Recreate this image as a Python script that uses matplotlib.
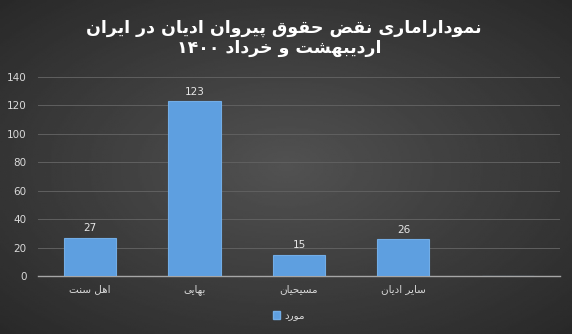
import numpy as np
import matplotlib

matplotlib.use("Agg")
import matplotlib.pyplot as plt
from matplotlib.patches import Patch

# data
categories = ["اهل سنت", "بهایی", "مسیحیان", "سایر ادیان", ""]
values = [27, 123, 15, 26, None]
series_name = "مورد"
title_lines = ["نمودارامارى نقض حقوق پيروان اديان در ايران", "ارديبهشت و خرداد ۱۴۰۰"]
yticks = [0, 20, 40, 60, 80, 100, 120, 140]

# minimal arabic shaping (matplotlib has no complex text layout)
# char -> (isolated, final, initial, medial); 2-tuple = joins on right only
FORMS = {
    "ا": (0xFE8D, 0xFE8E), "ب": (0xFE8F, 0xFE90, 0xFE91, 0xFE92),
    "ت": (0xFE95, 0xFE96, 0xFE97, 0xFE98), "ج": (0xFE9D, 0xFE9E, 0xFE9F, 0xFEA0),
    "ح": (0xFEA1, 0xFEA2, 0xFEA3, 0xFEA4), "خ": (0xFEA5, 0xFEA6, 0xFEA7, 0xFEA8),
    "د": (0xFEA9, 0xFEAA), "ر": (0xFEAD, 0xFEAE),
    "س": (0xFEB1, 0xFEB2, 0xFEB3, 0xFEB4), "ش": (0xFEB5, 0xFEB6, 0xFEB7, 0xFEB8),
    "ض": (0xFEBD, 0xFEBE, 0xFEBF, 0xFEC0), "ق": (0xFED5, 0xFED6, 0xFED7, 0xFED8),
    "ل": (0xFEDD, 0xFEDE, 0xFEDF, 0xFEE0), "م": (0xFEE1, 0xFEE2, 0xFEE3, 0xFEE4),
    "ن": (0xFEE5, 0xFEE6, 0xFEE7, 0xFEE8), "ه": (0xFEE9, 0xFEEA, 0xFEEB, 0xFEEC),
    "و": (0xFEED, 0xFEEE), "ى": (0xFEEF, 0xFEF0, 0xFBE8, 0xFBE9),
    "ي": (0xFEF1, 0xFEF2, 0xFEF3, 0xFEF4), "ی": (0xFBFC, 0xFBFD, 0xFBFE, 0xFBFF),
    "پ": (0xFB56, 0xFB57, 0xFB58, 0xFB59),
}


def shape(text):
    out = []
    for i, ch in enumerate(text):
        f = FORMS.get(ch)
        if f is None:
            out.append(ch)
            continue
        prev = text[i - 1] if i > 0 else ""
        nxt = text[i + 1] if i + 1 < len(text) else ""
        joins_prev = prev in FORMS and len(FORMS[prev]) == 4
        joins_next = len(f) == 4 and nxt in FORMS
        if joins_prev and joins_next:
            idx = 3
        elif joins_prev:
            idx = 1
        elif joins_next:
            idx = 2
        else:
            idx = 0
        out.append(chr(f[idx]))
    # visual order: reverse words, keep digit runs left-to-right
    words = "".join(out).split(" ")
    vis = []
    for w in reversed(words):
        vis.append(w if w.isdigit() else w[::-1])
    return " ".join(vis)


fig = plt.figure(figsize=(5.72, 3.34), dpi=100)

# radial dark-gray background
bg = fig.add_axes([0, 0, 1, 1], zorder=-1)
yy, xx = np.mgrid[-1:1:200j, -1:1:300j]
r = np.sqrt(xx ** 2 + yy ** 2) / np.sqrt(2)
bg.imshow(0.32 - 0.16 * r, cmap="gray", vmin=0, vmax=1, aspect="auto",
          extent=[0, 1, 0, 1])
bg.axis("off")

ax = fig.add_axes([0.0664, 0.1737, 0.9126, 0.5958])
ax.set_facecolor("none")

x = np.arange(len(categories))
heights = [v if v is not None else 0 for v in values]
bars = ax.bar(x, heights, width=0.5, color="#5e9fe0", edgecolor="#72ade6",
              linewidth=0.8, zorder=3)
for xi, v in zip(x, values):
    if v is not None:
        ax.text(xi, v + 3, str(v), ha="center", va="bottom", color="#e6e6e6",
                fontsize=7.5)

ax.set_xlim(-0.5, len(categories) - 0.5)
ax.set_ylim(0, 140)
ax.set_yticks(yticks)
ax.set_xticks(x)
ax.set_xticklabels([shape(c) for c in categories])
ax.tick_params(axis="both", length=0, colors="#d9d9d9", labelsize=7.5)
ax.tick_params(axis="y", pad=8)
ax.tick_params(axis="x", pad=6)
ax.grid(True, axis="y", color="#606060", lw=0.7, zorder=0)
for s in ["top", "right", "left"]:
    ax.spines[s].set_visible(False)
ax.spines["bottom"].set_color("#a6a6a6")
ax.spines["bottom"].set_linewidth(1.0)

leg = fig.legend(handles=[Patch(facecolor="#5e9fe0", edgecolor="#72ade6")],
                 labels=[shape(series_name)], loc="center",
                 bbox_to_anchor=(0.505, 0.055), frameon=False, fontsize=7.5,
                 handlelength=0.7, handleheight=0.7, handletextpad=0.4)
for t in leg.get_texts():
    t.set_color("#d9d9d9")

fig.text(0.497, 0.917, shape(title_lines[0]), ha="center", va="center",
         color="white", fontsize=12.5, fontweight="bold")
fig.text(0.488, 0.855, shape(title_lines[1]), ha="center", va="center",
         color="white", fontsize=12.5, fontweight="bold")

fig.savefig("out.png", dpi=100)
